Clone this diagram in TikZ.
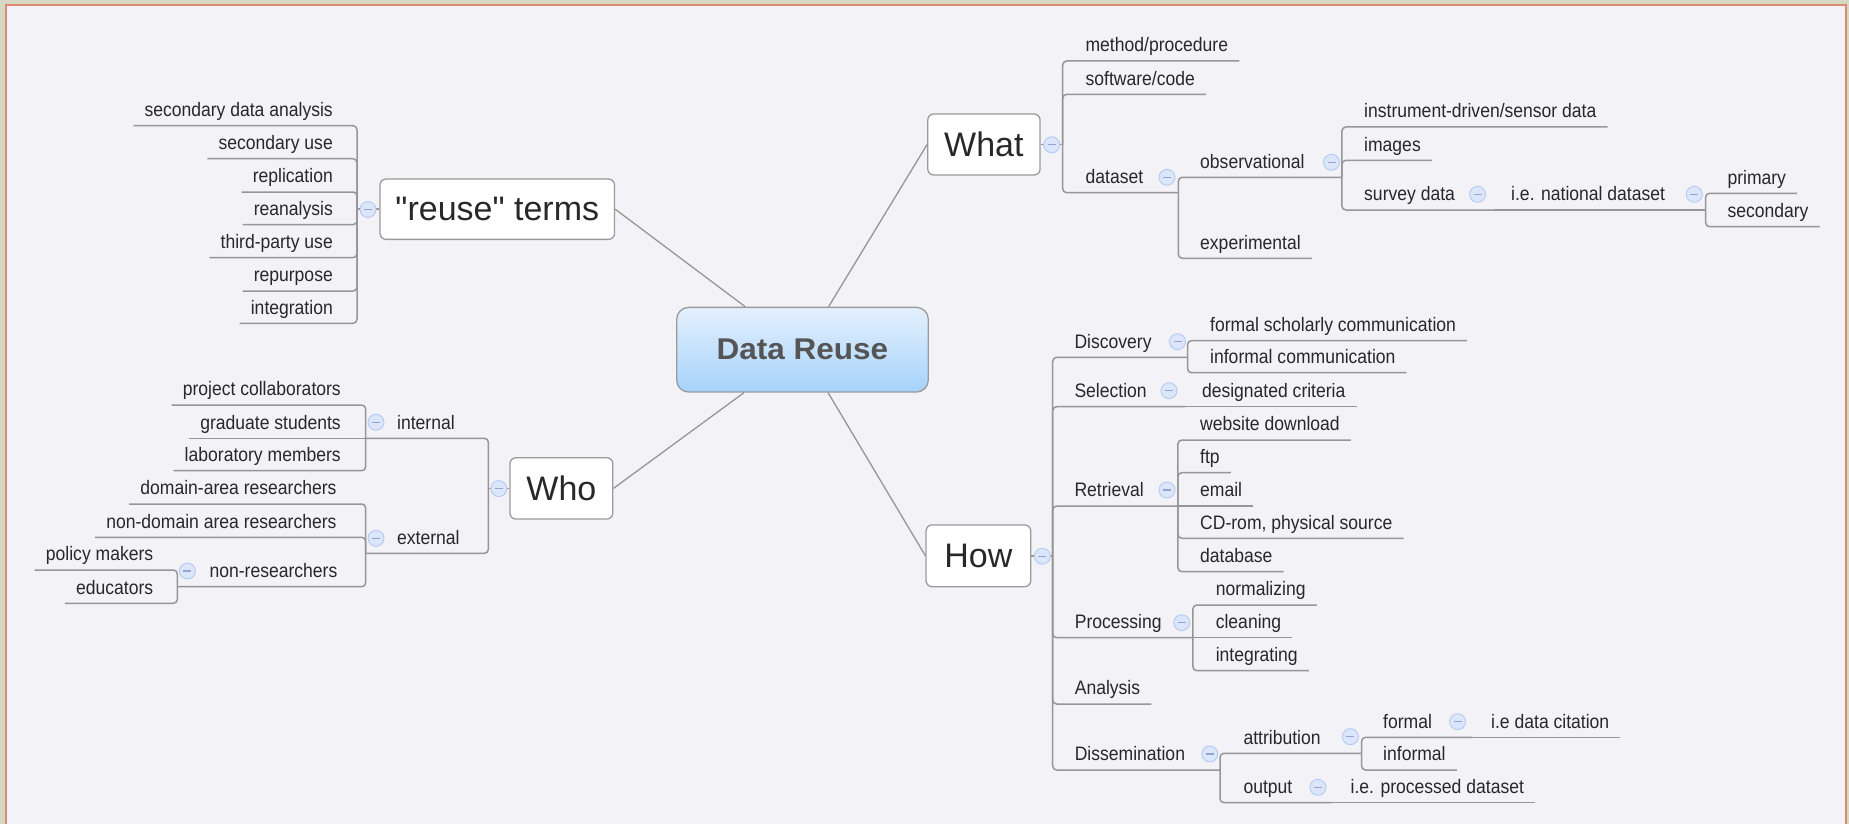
\documentclass[tikz,border=0pt]{standalone}
\usepackage{fontspec}
\setmainfont{Liberation Sans}
\newfontfamily\smfont[FakeStretch=0.9]{Liberation Sans}
\newfontfamily\bigfont[Ligatures=TeXOff]{Liberation Sans}
\newfontfamily\ctrfont[FakeStretch=1.05]{Liberation Sans}
\usetikzlibrary{calc}
\definecolor{bgcol}{RGB}{242,242,247}
\definecolor{outcol}{RGB}{213,217,196}
\definecolor{framecol}{RGB}{222,138,110}
\definecolor{linecol}{RGB}{150,150,150}
\definecolor{txtcol}{RGB}{40,40,40}
\definecolor{ctxt}{RGB}{85,85,85}
\definecolor{mfill}{RGB}{220,230,250}
\definecolor{mdraw}{RGB}{180,202,242}
\definecolor{mbar}{RGB}{145,165,208}
\definecolor{ctop}{RGB}{228,240,253}
\definecolor{cbot}{RGB}{166,211,251}
\definecolor{boxline}{RGB}{155,155,155}
\begin{document}
\begin{tikzpicture}[x=1pt,y=-1pt,
  lbl/.style={font=\smfont\fontsize{19.5}{20}\selectfont, text=txtcol, inner xsep=11pt, inner ysep=0pt, text height=14pt, text depth=9pt},
  topic/.style={draw=boxline, line width=1.3pt, fill=white, rounded corners=6pt, font=\bigfont\fontsize{34}{36}\selectfont, text=txtcol, inner sep=0pt},
  br/.style={draw=linecol, line width=1.5pt, rounded corners=4pt},
  link/.style={draw=linecol, line width=1.3pt},
  minus/.style={circle, fill=mfill, draw=mdraw, line width=0.9pt, minimum size=16pt, inner sep=0pt,
    path picture={\draw[mbar, line width=1.2pt] ([xshift=-4pt]path picture bounding box.center) -- ([xshift=4pt]path picture bounding box.center);}}
]
% background and frame
\fill[outcol] (0,0) rectangle (1849,824);
\fill[framecol] (4.7,4) rectangle (1847,824);
\fill[bgcol] (6.7,6) rectangle (1844.7,824);
\useasboundingbox (0,0) rectangle (1849,824);

% central topic and main topics
\node[draw=boxline, line width=1.3pt, rounded corners=12pt, top color=ctop, bottom color=cbot,
  minimum width=251.6pt, minimum height=84.7pt, inner sep=0pt,
  font=\ctrfont\bfseries\fontsize{30}{32}\selectfont, text=ctxt] (root) at (802.5,349.7) {Data Reuse};
\node[topic, minimum width=234.5pt, minimum height=60.3pt] (reuse) at (497.3,209.2) {"reuse" terms};
\node[topic, minimum width=102.8pt, minimum height=61.3pt] (who) at (561.4,488.4) {Who};
\node[topic, minimum width=112.3pt, minimum height=61pt] (what) at (983.9,144.5) {What};
\node[topic, minimum width=104.7pt, minimum height=61.7pt] (how) at (978.4,555.8) {How};

\draw[link] (root) -- (reuse.east);
\draw[link] (root) -- (who.east);
\draw[link] (root) -- (what.west);
\draw[link] (root) -- (how.west);

% spine anchors
\coordinate (reuseS) at (357,209.2);
\coordinate (whoS) at (488.4,488.4);
\coordinate (whatS) at (1062.7,144.5);
\coordinate (howS) at (1052.7,555.8);
\draw[br] (reuse.west) -- (reuseS);
\draw[br] (who.west) -- (whoS);
\draw[br] (what.east) -- (whatS);
\draw[br] (how.east) -- (howS);

% ---------- "reuse" terms ----------
\node[lbl,anchor=south east] (r1) at (344,125.7) {secondary data analysis};
\node[lbl,anchor=south east] (r2) at (344,158.7) {secondary use};
\node[lbl,anchor=south east] (r3) at (344,192) {replication};
\node[lbl,anchor=south east] (r4) at (344,224.7) {reanalysis};
\node[lbl,anchor=south east] (r5) at (344,257.7) {third-party use};
\node[lbl,anchor=south east] (r6) at (344,291) {repurpose};
\node[lbl,anchor=south east] (r7) at (344,323.3) {integration};
\foreach \n in {r1,r2,r3,r4,r5,r6,r7} \draw[br] (reuseS) |- (\n.south west);

% ---------- Who ----------
\coordinate (intS) at (365.7,438.3);
\coordinate (extS) at (365.7,553.3);
\coordinate (nrS) at (177.4,586.7);
\node[lbl,anchor=south west] (int) at (386,438.3) {internal};
\node[lbl,anchor=south west] (ext) at (386,553.3) {external};
\draw[br] (whoS) |- (intS);
\draw[br] (whoS) |- (extS);
\node[lbl,anchor=south east] (pc) at (352,405) {project collaborators};
\node[lbl,anchor=south east] (gs) at (352,438.3) {graduate students};
\node[lbl,anchor=south east] (lm) at (352,470.7) {laboratory members};
\draw[br] (intS) |- (pc.south west);
\draw[br] (intS) -- (gs.south west);
\draw[br] (intS) |- (lm.south west);
\node[lbl,anchor=south east] (dar) at (347.7,504) {domain-area researchers};
\node[lbl,anchor=south east] (ndr) at (347.7,537.3) {non-domain area researchers};
\node[lbl,anchor=south west] (nr) at (198.4,586.7) {non-researchers};
\draw[br] (extS) |- (dar.south west);
\draw[br] (extS) |- (ndr.south west);
\draw[br] (extS) |- (nrS);
\node[lbl,anchor=south east] (pm) at (164.4,570) {policy makers};
\node[lbl,anchor=south east] (ed) at (164.4,603.3) {educators};
\draw[br] (nrS) |- (pm.south west);
\draw[br] (nrS) |- (ed.south west);

% ---------- What ----------
\coordinate (dsS) at (1178.3,192.7);
\coordinate (obsS) at (1341.9,177.3);
\coordinate (surE) at (1494,210);
\coordinate (natS) at (1705.6,210);
\node[lbl,anchor=south west] (mp) at (1074.4,61) {method/procedure};
\node[lbl,anchor=south west] (sc) at (1074.4,94.3) {software/code};
\node[lbl,anchor=south west] (ds) at (1074.4,192.7) {dataset};
\draw[br] (whatS) |- (mp.south east);
\draw[br] (whatS) |- (sc.south east);
\draw[br] (whatS) |- (dsS);
\node[lbl,anchor=south west] (obs) at (1189,177.3) {observational};
\node[lbl,anchor=south west] (exp) at (1189,258.3) {experimental};
\draw[br] (dsS) |- (obsS);
\draw[br] (dsS) |- (exp.south east);
\node[lbl,anchor=south west] (ins) at (1353,127) {instrument-driven/sensor data};
\node[lbl,anchor=south west] (img) at (1353,160.3) {images};
\node[lbl,anchor=south west] (sur) at (1353,210) {survey data};
\draw[br] (obsS) |- (ins.south east);
\draw[br] (obsS) |- (img.south east);
\draw[br] (obsS) |- (surE);
\node[lbl,anchor=south west] (nat) at (1500,210) {i.e. national dataset};
\draw[br] (surE) -- (natS);
\node[lbl,anchor=south west] (pri) at (1716.3,193.3) {primary};
\node[lbl,anchor=south west] (sec) at (1716.3,226.7) {secondary};
\draw[br] (natS) |- (pri.south east);
\draw[br] (natS) |- (sec.south east);

% ---------- How ----------
\coordinate (discS) at (1187.5,357.3);
\coordinate (selE) at (1185,406.7);
\coordinate (retS) at (1177.9,506);
\coordinate (procS) at (1192.9,637.7);
\coordinate (disS) at (1220,770);
\coordinate (attS) at (1361.6,753.3);
\coordinate (forE) at (1472,737.3);
\coordinate (outE) at (1332,802.7);
\node[lbl,anchor=south west] (disc) at (1063.3,357.3) {Discovery};
\node[lbl,anchor=south west] (sel) at (1063.3,406.7) {Selection};
\node[lbl,anchor=south west] (ret) at (1063.3,506) {Retrieval};
\node[lbl,anchor=south west] (proc) at (1063.6,637.7) {Processing};
\node[lbl,anchor=south west] (ana) at (1063.6,704) {Analysis};
\node[lbl,anchor=south west] (dis) at (1063.6,770) {Dissemination};
\draw[br] (howS) |- (discS);
\draw[br] (howS) |- (selE);
\draw[br] (howS) |- (retS);
\draw[br] (howS) |- (procS);
\draw[br] (howS) |- (ana.south east);
\draw[br] (howS) |- (disS);
\node[lbl,anchor=south west] (fsc) at (1199,340.7) {formal scholarly communication};
\node[lbl,anchor=south west] (ic) at (1199,372.7) {informal communication};
\draw[br] (discS) |- (fsc.south east);
\draw[br] (discS) |- (ic.south east);
\node[lbl,anchor=south west] (dc) at (1190.8,406.7) {designated criteria};
\draw[br] (selE) -- (dc.south east);
\node[lbl,anchor=south west] (wd) at (1189,440) {website download};
\node[lbl,anchor=south west] (ftp) at (1189,472.7) {ftp};
\node[lbl,anchor=south west] (em) at (1189,506) {email};
\node[lbl,anchor=south west] (cd) at (1189,538.3) {CD-rom, physical source};
\node[lbl,anchor=south west] (db) at (1189,571.7) {database};
\draw[br] (retS) |- (wd.south east);
\draw[br] (retS) |- (ftp.south east);
\draw[br] (retS) -- (em.south east);
\draw[br] (retS) |- (cd.south east);
\draw[br] (retS) |- (db.south east);
\node[lbl,anchor=south west] (nor) at (1204.6,605) {normalizing};
\node[lbl,anchor=south west] (cle) at (1204.6,637.7) {cleaning};
\node[lbl,anchor=south west] (itg) at (1204.6,670.7) {integrating};
\draw[br] (procS) |- (nor.south east);
\draw[br] (procS) -- (cle.south east);
\draw[br] (procS) |- (itg.south east);
\node[lbl,anchor=south west] (att) at (1232.3,753.3) {attribution};
\node[lbl,anchor=south west] (out) at (1232.3,802.7) {output};
\draw[br] (disS) |- (attS);
\draw[br] (disS) |- (outE);
\node[lbl,anchor=south west] (for) at (1372,737.3) {formal};
\node[lbl,anchor=south west] (inf) at (1372,770) {informal};
\draw[br] (attS) |- (forE);
\draw[br] (attS) |- (inf.south east);
\node[lbl,anchor=south west] (cit) at (1480,737.3) {i.e data citation};
\draw[br] (forE) -- (cit.south east);
\node[lbl,anchor=south west] (ipd) at (1339.4,802.7) {i.e. processed dataset};
\draw[br] (outE) -- (ipd.south east);

% ---------- collapse buttons ----------
\node[minus] (m-reuse) at (368,209.5) {};
\node[minus] (m-who) at (498.8,488.6) {};
\node[minus] (m-int) at (376,422.3) {};
\node[minus] (m-ext) at (376,538.3) {};
\node[minus] (m-nr) at (187.4,571) {};
\node[minus] (m-what) at (1051.7,144.8) {};
\node[minus] (m-ds) at (1167,177.3) {};
\node[minus] (m-obs) at (1331.5,162.3) {};
\node[minus] (m-sur) at (1477.6,194.3) {};
\node[minus] (m-nat) at (1694.3,194.3) {};
\node[minus] (m-how) at (1042.3,556.2) {};
\node[minus] (m-disc) at (1177.5,341.7) {};
\node[minus] (m-sel) at (1169,390.7) {};
\node[minus] (m-ret) at (1167,490) {};
\node[minus] (m-proc) at (1181.7,622.7) {};
\node[minus] (m-dis) at (1209.8,754) {};
\node[minus] (m-att) at (1350.4,736.7) {};
\node[minus] (m-for) at (1457.6,721.7) {};
\node[minus] (m-out) at (1317.9,787.3) {};
\end{tikzpicture}
\end{document}
